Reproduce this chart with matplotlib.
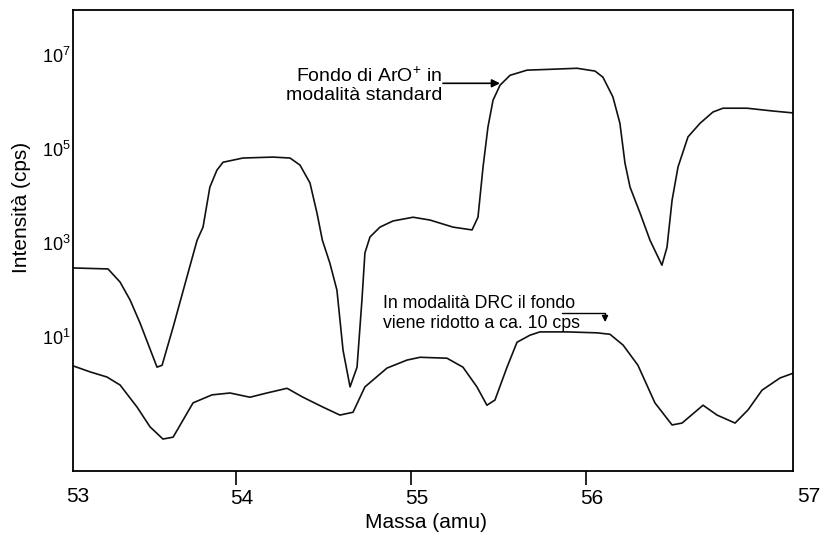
import numpy as np
import matplotlib
matplotlib.use('Agg')
import matplotlib.pyplot as plt
import matplotlib.transforms as mtransforms
from matplotlib.ticker import NullLocator

plt.rcParams['font.family'] = ['Liberation Sans', 'DejaVu Sans']
plt.rcParams['mathtext.fontset'] = 'custom'
plt.rcParams['mathtext.rm'] = 'Liberation Sans'
plt.rcParams['mathtext.it'] = 'Liberation Sans:italic'

# standard mode (upper trace): mass (amu), log10 of intensity (cps)
upper_x = [53.073, 53.267, 53.336, 53.393, 53.450, 53.547, 53.576, 53.639, 53.724, 53.776,
           53.810, 53.849, 53.889, 53.924, 54.038, 54.209, 54.307, 54.364, 54.421, 54.461,
           54.492, 54.535, 54.575, 54.610, 54.650, 54.690, 54.718, 54.735, 54.764, 54.821,
           54.895, 55.010, 55.107, 55.238, 55.347, 55.381, 55.410, 55.438, 55.467, 55.507,
           55.564, 55.661, 55.810, 55.947, 56.050, 56.095, 56.152, 56.192, 56.221, 56.250,
           56.307, 56.364, 56.432, 56.461, 56.490, 56.524, 56.581, 56.650, 56.724, 56.781,
           56.918, 57.067, 57.181]
upper_exp = [2.47, 2.45, 2.17, 1.79, 1.30, 0.36, 0.40, 1.21, 2.36, 3.06,
             3.34, 4.19, 4.55, 4.72, 4.81, 4.83, 4.81, 4.66, 4.28, 3.64,
             3.06, 2.57, 2.00, 0.72, -0.06, 0.36, 1.79, 2.79, 3.13, 3.34,
             3.47, 3.55, 3.49, 3.34, 3.28, 3.55, 4.62, 5.47, 6.04, 6.36,
             6.57, 6.68, 6.70, 6.72, 6.66, 6.53, 6.11, 5.55, 4.70, 4.19,
             3.64, 3.06, 2.53, 2.91, 3.91, 4.62, 5.26, 5.55, 5.79, 5.87,
             5.87, 5.81, 5.77]

# DRC mode (lower trace)
lower_x = [53.073, 53.164, 53.261, 53.336, 53.433, 53.507, 53.581, 53.639, 53.753, 53.861,
           53.964, 54.078, 54.175, 54.290, 54.381, 54.495, 54.592, 54.667, 54.735, 54.861,
           54.975, 55.050, 55.204, 55.295, 55.375, 55.432, 55.478, 55.547, 55.604, 55.678,
           55.735, 55.890, 56.061, 56.135, 56.210, 56.295, 56.392, 56.490, 56.547, 56.667,
           56.747, 56.850, 56.924, 57.004, 57.107, 57.181]
lower_exp = [0.38, 0.26, 0.15, -0.02, -0.49, -0.91, -1.17, -1.13, -0.40, -0.23,
             -0.19, -0.28, -0.19, -0.09, -0.28, -0.49, -0.66, -0.60, -0.06, 0.34,
             0.51, 0.57, 0.55, 0.36, -0.06, -0.45, -0.34, 0.36, 0.89, 1.04,
             1.11, 1.11, 1.09, 1.06, 0.83, 0.40, -0.40, -0.87, -0.83, -0.45,
             -0.66, -0.83, -0.55, -0.13, 0.13, 0.23]

y_ticks = [1e1, 1e3, 1e5, 1e7]
y_labels = ['10$^{1}$', '10$^{3}$', '10$^{5}$', '10$^{7}$']
x_ticks = [54, 55, 56]
x_labels = ['54', '55', '56']

fig = plt.figure(figsize=(8.24, 5.34), dpi=100)
ax = fig.add_axes([73 / 824, 1 - 471 / 534, 720 / 824, 461 / 534])

ax.plot(upper_x, 10 ** np.array(upper_exp), color='#111111', lw=1.2)
ax.plot(lower_x, 10 ** np.array(lower_exp), color='#111111', lw=1.2)

ax.set_yscale('log')
ax.set_xlim(53.067, 57.181)
ax.set_ylim(10 ** -1.85, 10 ** 7.96)
ax.set_yticks(y_ticks)
ax.set_yticklabels(y_labels)
ax.yaxis.set_minor_locator(NullLocator())
ax.tick_params(axis='y', length=0, pad=2, labelsize=13)
ax.set_xticks(x_ticks)
ax.set_xticklabels(x_labels)
ax.tick_params(axis='x', length=10, width=1.2, labelsize=15, pad=3)
for sp in ax.spines.values():
    sp.set_linewidth(1.3)

shift = mtransforms.ScaledTranslation(5 / 100, 0, fig.dpi_scale_trans)
for lab in ax.get_xticklabels():
    lab.set_transform(lab.get_transform() + shift)

# end labels of the mass axis
trans = mtransforms.blended_transform_factory(ax.transData, ax.transAxes)
ax.text(53.094, -0.056, '53', transform=trans, ha='center', va='center', fontsize=15, clip_on=False)
ax.text(57.27, -0.056, '57', transform=trans, ha='center', va='center', fontsize=15, clip_on=False)

# annotations
ax.text(55.175, 10 ** 6.35, 'Fondo di ArO$^{+}$ in\nmodalità standard',
        ha='right', va='center', fontsize=14, linespacing=1.1)
ax.annotate('', xy=(55.507, 10 ** 6.40), xytext=(55.181, 10 ** 6.40),
            arrowprops=dict(arrowstyle='-|>', color='black', lw=1.2,
                            shrinkA=0, shrinkB=0, mutation_scale=12))

ax.text(54.838, 10 ** 1.50, 'In modalità DRC il fondo\nviene ridotto a ca. 10 cps',
        ha='left', va='center', fontsize=12.8, linespacing=1.2)
ax.annotate('', xy=(56.107, 10 ** 1.32), xytext=(55.861, 10 ** 1.51),
            arrowprops=dict(arrowstyle='-|>', color='black', lw=1.0,
                            shrinkA=0, shrinkB=0, mutation_scale=9,
                            connectionstyle='angle,angleA=0,angleB=90,rad=0'))

fig.text(22 / 824, 1 - 207 / 534, 'Intensità (cps)', rotation=90,
         ha='center', va='center', fontsize=15)
fig.text(426 / 824, 1 - 522 / 534, 'Massa (amu)', ha='center', va='center', fontsize=15)

fig.savefig('out.png', dpi=100)
